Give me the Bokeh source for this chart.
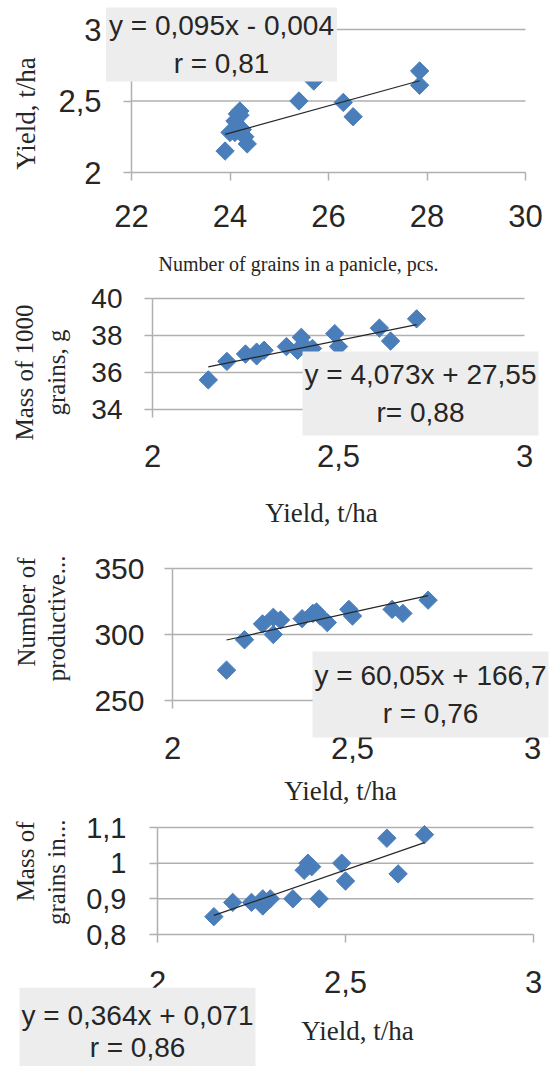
import numpy as np
from bokeh.plotting import figure
from bokeh.layouts import column
from bokeh.models import Range1d, FixedTicker, Label, CustomJSTickFormatter
from bokeh.embed import file_html
from bokeh.resources import INLINE

# ---------------- data ----------------
yield_t = [2.15, 2.20, 2.25, 2.28, 2.28, 2.30, 2.36, 2.39, 2.40, 2.41, 2.43, 2.49, 2.50, 2.61, 2.64, 2.71]
grains_panicle = [23.9, 24.35, 24.3, 24.0, 24.1, 24.25, 24.1, 26.5, 24.2, 24.15, 24.2, 26.3, 25.4, 27.85, 25.7, 27.85]
mass_1000 = [35.6, 36.6, 37.0, 36.9, 37.1, 37.2, 37.4, 37.2, 37.9, 37.4, 37.3, 38.1, 37.4, 38.4, 37.7, 38.9]
productive_stems = [273, 296, 308, 300, 313, 311, 312, 316, 317, 314, 309, 319, 314, 319, 316, 326]
mass_panicle = [0.85, 0.89, 0.89, 0.88, 0.90, 0.90, 0.90, 0.98, 1.00, 0.99, 0.90, 1.00, 0.95, 1.07, 0.97, 1.08]

# regression equations (slope, intercept) as printed
eq1 = (0.095, -0.004)
eq2 = (4.073, 27.55)
eq3 = (60.05, 166.7)
eq4 = (0.364, 0.071)

eq1_text = "y = 0,095x - 0,004\nr = 0,81"
eq2_text = "y = 4,073x + 27,55\nr= 0,88"
eq3_text = "y = 60,05x + 166,7\nr = 0,76"
eq4_text = "y = 0,364x + 0,071\nr = 0,86"

x1_ticks = [22, 24, 26, 28, 30]
x1_labels = ["22", "24", "26", "28", "30"]
y1_ticks = [2, 2.5, 3]
y1_labels = ["2", "2,5", "3"]
yield_ticks = [2, 2.5, 3]
yield_labels = ["2", "2,5", "3"]
y2_ticks = [34, 36, 38, 40]
y2_labels = ["34", "36", "38", "40"]
y3_ticks = [250, 300, 350]
y3_labels = ["250", "300", "350"]
y4_ticks = [0.8, 0.9, 1.0, 1.1]
y4_labels = ["0,8", "0,9", "1", "1,1"]

# ---------------- style ----------------
SANS = "Liberation Sans"
SERIF = "Liberation Serif"
BLUE = "#4a7ebb"
GRID = "#b0b0b0"
TXT = "#262626"
BOX = "#ededed"
PAGE_W = 557


def fmt(tv, tl):
    return CustomJSTickFormatter(args=dict(tv=tv, tl=tl), code="""
        for (let i = 0; i < tv.length; i++) {
            if (Math.abs(tv[i] - tick) < 1e-9) return tl[i];
        }
        return '';
    """)


class Panel:
    """One chart; the frame covers the whole figure, axes are pinned inside it."""

    def __init__(self, fig_top, fig_h, L, R, T, B, xr, yr):
        self.fig_top, self.fig_h = fig_top, fig_h
        self.L, self.R, self.T, self.B = L, R, T, B
        self.xr, self.yr = xr, yr
        sx = (xr[1] - xr[0]) / (R - L)
        sy = (yr[1] - yr[0]) / (B - T)
        x_start = xr[0] - L * sx
        x_end = xr[0] + (PAGE_W - L) * sx
        y_start = yr[0] - (fig_top + fig_h - B) * sy
        y_end = yr[1] + (T - fig_top) * sy
        self.p = figure(width=PAGE_W, height=fig_h,
                        x_range=Range1d(x_start, x_end), y_range=Range1d(y_start, y_end),
                        min_border=0, output_backend="svg", toolbar_location=None)
        p = self.p
        p.outline_line_color = None
        p.grid.visible = False
        p.xaxis.fixed_location = yr[0]
        p.yaxis.fixed_location = xr[0]
        p.xaxis.bounds = xr
        p.yaxis.bounds = yr
        for ax in (p.xaxis[0], p.yaxis[0]):
            ax.axis_line_color = GRID
            ax.axis_line_width = 1.5
            ax.major_tick_line_color = GRID
            ax.major_tick_line_width = 1.5
            ax.major_tick_out = 8
            ax.major_tick_in = 0
            ax.minor_tick_line_color = None
            ax.major_label_text_font = SANS
            ax.major_label_text_color = TXT

    def pos(self, px, py):
        x = self.xr[0] + (px - self.L) / (self.R - self.L) * (self.xr[1] - self.xr[0])
        y = self.yr[0] + (self.B - py) / (self.B - self.T) * (self.yr[1] - self.yr[0])
        return x, y

    def ticks(self, xt, xl, yt, yl, xsize, ysize, xstand, ystand):
        p = self.p
        p.xaxis.ticker = FixedTicker(ticks=xt)
        p.xaxis.formatter = fmt(xt, xl)
        p.yaxis.ticker = FixedTicker(ticks=yt)
        p.yaxis.formatter = fmt(yt, yl)
        p.xaxis.major_label_text_font_size = xsize
        p.yaxis.major_label_text_font_size = ysize
        p.xaxis.major_label_standoff = xstand
        p.yaxis.major_label_standoff = ystand
        # horizontal major gridlines (above the x axis line)
        gy = [t for t in yt if t > self.yr[0]]
        p.segment(x0=[self.xr[0]] * len(gy), x1=[self.xr[1]] * len(gy), y0=gy, y1=gy,
                  line_color=GRID, line_width=1.5, level="underlay")

    def title(self, text, px, py, size, rotated=False, align="center"):
        x, y = self.pos(px, py)
        self.p.add_layout(Label(x=x, y=y, text=text, text_align=align, text_baseline="middle",
                                angle=(np.pi / 2 if rotated else 0), text_font=SERIF,
                                text_font_size=size, text_color=TXT, text_line_height=1.15))

    def eq(self, text, px, py, pad, lh=1.2):
        x, y = self.pos(px, py)
        self.p.add_layout(Label(x=x, y=y, text=text, text_align="center", text_baseline="middle",
                                text_font=SANS, text_font_size="28px", text_color=TXT,
                                text_line_height=lh, background_fill_color=BOX,
                                border_line_color=None, padding=pad))

    def data(self, xs, ys, coef):
        p = self.p
        p.scatter(xs, ys, marker="square", angle=np.pi / 4, size=13,
                  fill_color=BLUE, line_color=BLUE)
        xl = np.array([min(xs), max(xs)])
        p.line(xl, coef[0] * xl + coef[1], line_color="#262626", line_width=1.2)


# Panel 1: yield vs grains in panicle
P1 = Panel(0, 282, 131, 525, 29, 172, (22, 30), (2, 3))
P1.ticks(x1_ticks, x1_labels, y1_ticks, y1_labels, "31px", "31px", 24, 22)
P1.data(grains_panicle, yield_t, eq1)
P1.title("Yield, t/ha", 25, 113, "27px", rotated=True)
P1.title("Number of grains in a panicle, pcs.", 298, 263, "20px")
P1.eq(eq1_text, 221, 44, (3, 3))

# Panel 2: mass of 1000 grains vs yield
P2 = Panel(282, 248, 152, 524, 298, 409, (2, 3), (34, 40))
P2.ticks(yield_ticks, yield_labels, y2_ticks, y2_labels, "31px", "28px", 27, 22)
P2.data(yield_t, mass_1000, eq2)
P2.title("Mass of 1000\ngrains, g", 40, 372, "25px", rotated=True)
P2.title("Yield, t/ha", 321, 512, "27px")
P2.eq(eq2_text, 420, 393, (2, 8))

# Panel 3: number of productive stems vs yield
P3 = Panel(530, 278, 172, 532, 568, 700, (2, 3), (250, 350))
P3.ticks(yield_ticks, yield_labels, y3_ticks, y3_labels, "31px", "30px", 28, 20)
P3.data(yield_t, productive_stems, eq3)
P3.title("Number of", 26, 557, "25px", rotated=True, align="right")
P3.title("productive...", 56, 555, "25px", rotated=True, align="right")
P3.title("Yield, t/ha", 340, 790, "27px")
P3.eq(eq3_text, 430, 694, (2, 9))

# Panel 4: mass of grains in panicle vs yield
P4 = Panel(808, 258, 157, 533, 827, 934, (2, 3), (0.8, 1.1))
P4.ticks(yield_ticks, yield_labels, y4_ticks, y4_labels, "31px", "29px", 28, 23)
P4.data(yield_t, mass_panicle, eq4)
P4.title("Mass of", 25, 821, "25px", rotated=True, align="right")
P4.title("grains in...", 56, 819, "25px", rotated=True, align="right")
P4.title("Yield, t/ha", 357, 1030, "27px")
P4.eq(eq4_text, 137, 1031, (2, 12), lh=1.05)

layout = column(P1.p, P2.p, P3.p, P4.p, spacing=0)
open("out.html", "w").write(file_html(layout, INLINE))
